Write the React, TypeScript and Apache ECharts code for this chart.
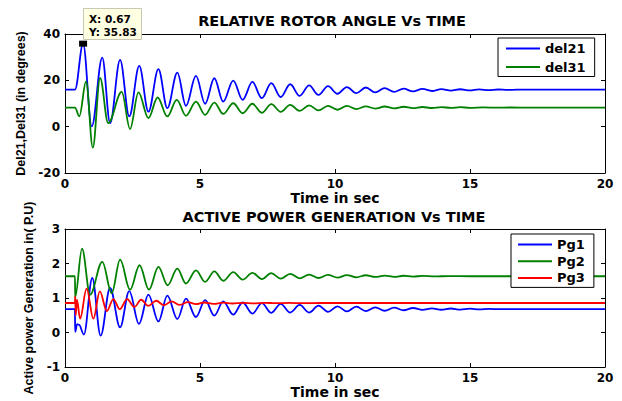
import React, { useEffect, useRef } from "react";
import * as echarts from "echarts";

// ---- Data (time in s, value) ----
// Top plot: relative rotor angles (degrees)
const del21: [number, number][] = [
  [0, 16], [0.37, 16], [0.67, 35.83], [0.99, 0.1], [1.38, 29.8], [1.67, 1.5],
  [2.04, 28.8], [2.38, 4.4], [2.75, 26.2], [3.09, 6.5], [3.46, 24.8], [3.79, 8.0],
  [4.16, 23.3], [4.48, 9.0], [4.85, 21.9], [5.19, 9.9], [5.53, 20.9], [5.86, 10.8],
  [6.23, 19.9], [6.58, 11.6], [6.94, 19.3], [7.29, 12.3], [7.64, 18.8], [7.99, 12.8],
  [8.34, 18.3], [8.69, 13.3], [9.04, 17.8], [9.39, 13.7], [9.74, 17.5], [10.09, 14.2],
  [10.44, 17.1], [10.79, 14.5], [11.14, 16.9], [11.49, 14.8], [11.84, 16.6], [12.19, 15.0],
  [12.54, 16.4], [12.89, 15.2], [13.24, 16.3], [13.59, 15.4], [13.94, 16.2], [14.29, 15.55],
  [14.64, 16.15], [14.99, 15.65], [15.34, 16.1], [15.69, 15.75], [16.04, 16.05], [16.39, 15.85],
  [16.74, 16.0], [17.2, 15.95], [20, 15.95],
];
const del31: [number, number][] = [
  [0, 8.2], [0.37, 8.2], [0.53, 4.5], [0.78, 19.5], [1.03, -9.0], [1.3, 21.0], [1.6, 1.5],
  [2.1, 15.0], [2.41, -1.0], [2.72, 14.8], [3.09, 3.7], [3.43, 12.6], [3.79, 4.4],
  [4.14, 11.6], [4.48, 4.7], [4.85, 10.8], [5.19, 5.1], [5.53, 10.4], [5.86, 5.5],
  [6.23, 10.1], [6.58, 5.8], [6.94, 9.9], [7.29, 6.0], [7.64, 9.7], [7.99, 6.4],
  [8.34, 9.4], [8.69, 6.8], [9.04, 9.2], [9.39, 7.0], [9.74, 9.0], [10.09, 7.3],
  [10.44, 8.95], [10.79, 7.6], [11.14, 8.75], [11.49, 7.8], [11.84, 8.7], [12.19, 7.9],
  [12.54, 8.6], [12.89, 8.0], [13.24, 8.5], [13.59, 8.05], [13.94, 8.45], [14.29, 8.1],
  [14.64, 8.4], [15.0, 8.15], [15.5, 8.3], [16.0, 8.2], [16.5, 8.28], [17.2, 8.22], [20, 8.22],
];

// Bottom plot: active power generation (p.u.)
const pg1: [number, number][] = [
  [0, 0.68], [0.37, 0.68], [0.375, 0.02], [0.45, 0.24], [0.52, 0.22], [0.7, -0.06],
  [1.01, 1.58], [1.32, -0.09], [1.67, 1.29], [2.04, 0.15], [2.38, 1.2], [2.74, 0.25],
  [3.09, 1.1], [3.46, 0.32], [3.79, 1.07], [4.16, 0.39], [4.48, 0.98], [4.85, 0.45],
  [5.19, 0.94], [5.53, 0.49], [5.86, 0.9], [6.23, 0.52], [6.58, 0.87], [6.94, 0.55],
  [7.29, 0.85], [7.64, 0.57], [7.99, 0.83], [8.34, 0.58], [8.69, 0.8], [9.04, 0.58],
  [9.39, 0.78], [9.74, 0.6], [10.09, 0.76], [10.44, 0.61], [10.79, 0.75], [11.14, 0.62],
  [11.49, 0.73], [11.84, 0.63], [12.19, 0.72], [12.54, 0.645], [12.89, 0.71], [13.24, 0.655],
  [13.59, 0.7], [13.94, 0.66], [14.29, 0.695], [14.64, 0.665], [15.0, 0.69], [15.35, 0.67],
  [15.7, 0.685], [16.1, 0.675], [16.5, 0.68], [20, 0.68],
];
const pg2: [number, number][] = [
  [0, 1.63], [0.37, 1.63], [0.375, 1.02], [0.63, 2.43], [0.93, 1.1], [1.38, 2.05],
  [1.73, 1.14], [2.04, 2.11], [2.41, 1.24], [2.76, 1.95], [3.11, 1.24], [3.46, 1.9],
  [3.8, 1.37], [4.16, 1.85], [4.48, 1.42], [4.85, 1.8], [5.19, 1.47], [5.53, 1.77],
  [5.86, 1.5], [6.23, 1.75], [6.58, 1.53], [6.94, 1.73], [7.29, 1.55], [7.64, 1.72],
  [7.99, 1.56], [8.34, 1.7], [8.69, 1.57], [9.04, 1.68], [9.39, 1.58], [9.74, 1.67],
  [10.09, 1.59], [10.44, 1.665], [10.79, 1.6], [11.14, 1.66], [11.49, 1.61], [11.84, 1.65],
  [12.19, 1.615], [12.54, 1.645], [12.89, 1.62], [13.24, 1.64], [13.7, 1.625], [14.2, 1.635],
  [15.0, 1.63], [20, 1.63],
];
const pg3: [number, number][] = [
  [0, 0.855], [0.37, 0.855], [0.375, 1.05], [0.4, 0.5], [0.44, 0.95], [0.56, 0.4],
  [0.8, 1.27], [1.05, 0.4], [1.29, 1.19], [1.55, 0.62], [1.79, 0.97], [2.03, 0.68],
  [2.3, 0.97], [2.57, 0.74], [2.82, 0.95], [3.08, 0.77], [3.38, 0.92], [3.66, 0.79],
  [3.95, 0.9], [4.25, 0.8], [4.55, 0.88], [4.85, 0.82], [5.15, 0.87], [5.5, 0.83],
  [5.85, 0.865], [6.2, 0.84], [6.6, 0.86], [7.0, 0.845], [7.4, 0.86], [7.8, 0.85],
  [8.3, 0.857], [8.8, 0.85], [9.5, 0.855], [20, 0.855],
];

// Data tip shown on the top plot
const tipPoint: [number, number] = [0.67, 35.83];

// Axes ranges
const timeRange = [0, 20, 5];
const angleRange = [-20, 40, 20];
const powerRange = [-1, 3, 1];

const titles = ["RELATIVE ROTOR ANGLE Vs TIME", "ACTIVE POWER GENERATION Vs TIME"];
const xName = "Time in sec";
const yNames = ["Del21,Del31 (in degrees)", "Active power Generation in( P.U)"];

const BLUE = "#0000ff";
const GREEN = "#008000";
const RED = "#ff0000";

const boldFont = {
  fontFamily: "DejaVu Sans",
  fontWeight: "bold" as const,
  color: "#000",
};

function xAxes(grid: number, showName: boolean) {
  const common = {
    gridIndex: grid,
    type: "value" as const,
    min: timeRange[0],
    max: timeRange[1],
    interval: timeRange[2],
    splitLine: { show: false },
    axisLine: { show: true, onZero: false, lineStyle: { color: "#000", width: 1 } },
    axisTick: { show: true, inside: true, length: 4, lineStyle: { color: "#000", width: 1 } },
  };
  return [
    {
      ...common,
      position: "bottom",
      axisLabel: { ...boldFont, fontSize: 12, margin: 5 },
      name: showName ? xName : "",
      nameLocation: "middle",
      nameGap: 17,
      nameTextStyle: { ...boldFont, fontSize: 14 },
    },
    { ...common, position: "top", axisLabel: { show: false } },
  ];
}

function yAxes(grid: number, range: number[], name: string, gap: number) {
  const common = {
    gridIndex: grid,
    type: "value" as const,
    min: range[0],
    max: range[1],
    interval: range[2],
    splitLine: { show: false },
    axisLine: { show: true, onZero: false, lineStyle: { color: "#000", width: 1 } },
    axisTick: { show: true, inside: true, length: 4, lineStyle: { color: "#000", width: 1 } },
  };
  return [
    {
      ...common,
      position: "left",
      axisLabel: { ...boldFont, fontSize: 12, margin: 5 },
      name,
      nameLocation: "middle",
      nameGap: gap,
      nameTextStyle: {
        fontFamily: "Liberation Sans",
        fontWeight: "bold",
        fontSize: 12.5,
        color: "#000",
      },
    },
    { ...common, position: "right", axisLabel: { show: false } },
  ];
}

function lineSeries(name: string, data: [number, number][], color: string, axis: number) {
  return {
    type: "line",
    name,
    data,
    xAxisIndex: axis,
    yAxisIndex: axis,
    showSymbol: false,
    symbol: "none",
    smooth: 0.36,
    smoothMonotone: "x",
    lineStyle: { color, width: 1.8 },
    itemStyle: { color },
    emphasis: { disabled: true },
  };
}

const legendCommon = {
  orient: "vertical",
  icon: "rect",
  itemWidth: 34,
  itemHeight: 2,
  backgroundColor: "#fff",
  borderColor: "#000",
  borderWidth: 1,
  borderRadius: 0,
  selectedMode: false,
  textStyle: { ...boldFont, fontSize: 13 },
};

export default function App() {
  const ref = useRef<HTMLDivElement>(null);

  useEffect(() => {
    document.body.style.margin = "0";
    const chart = echarts.init(ref.current!, null, { renderer: "svg" });
    const option: any = {
      animation: false,
      backgroundColor: "#fff",
      title: [
        {
          text: titles[0],
          left: 332,
          top: 13,
          textAlign: "center",
          padding: 0,
          textStyle: { ...boldFont, fontSize: 14.5 },
        },
        {
          text: titles[1],
          left: 334,
          top: 209,
          textAlign: "center",
          padding: 0,
          textStyle: { ...boldFont, fontSize: 14.5 },
        },
      ],
      grid: [
        { left: 65, top: 34, width: 540, height: 139, containLabel: false },
        { left: 65, top: 229, width: 540, height: 138, containLabel: false },
      ],
      xAxis: [...xAxes(0, true), ...xAxes(1, true)],
      yAxis: [
        ...yAxes(0, angleRange, yNames[0], 37),
        ...yAxes(1, powerRange, yNames[1], 27),
      ],
      legend: [
        {
          ...legendCommon,
          data: ["del21", "del31"],
          left: 498,
          top: 38,
          padding: [4, 9, 3, 8],
          itemGap: 5.5,
        },
        {
          ...legendCommon,
          data: ["Pg1", "Pg2", "Pg3"],
          left: 511,
          top: 234,
          padding: [4, 9, 3, 7],
          itemGap: 3.7,
        },
      ],
      series: [
        {
          ...lineSeries("del21", del21, BLUE, 0),
          markPoint: {
            symbol: "rect",
            symbolSize: [8, 6],
            itemStyle: { color: "#000" },
            label: { show: false },
            data: [{ coord: tipPoint }],
            z: 10,
          },
        },
        lineSeries("del31", del31, GREEN, 0),
        lineSeries("Pg1", pg1, BLUE, 2),
        lineSeries("Pg2", pg2, GREEN, 2),
        lineSeries("Pg3", pg3, RED, 2),
      ],
      graphic: [
        {
          type: "rect",
          shape: { x: 83.5, y: 8.5, width: 58, height: 31 },
          style: { fill: "#ffffe1", stroke: "#c8c8b4", lineWidth: 1 },
          z: 100,
        },
        {
          type: "text",
          x: 89,
          y: 18.5,
          z: 101,
          style: {
            text: `X: ${tipPoint[0]}`,
            font: 'bold 10.5px "DejaVu Sans"',
            fill: "#000",
            verticalAlign: "middle",
          },
        },
        {
          type: "text",
          x: 89,
          y: 31.5,
          z: 101,
          style: {
            text: `Y: ${tipPoint[1]}`,
            font: 'bold 10.5px "DejaVu Sans"',
            fill: "#000",
            verticalAlign: "middle",
          },
        },
      ],
    };
    chart.setOption(option);
    return () => chart.dispose();
  }, []);

  return (
    <div
      ref={ref}
      style={{ position: "absolute", left: 0, top: 0, width: 622, height: 401, background: "#fff" }}
    />
  );
}
